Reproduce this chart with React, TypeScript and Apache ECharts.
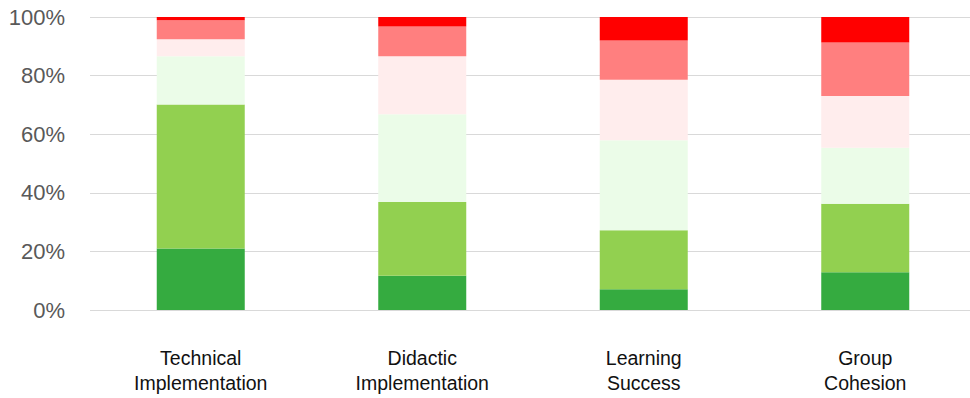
import React, { useEffect, useRef } from "react";
import * as echarts from "echarts";

const categories = ["Technical\nImplementation", "Didactic\nImplementation", "Learning\nSuccess", "Group\nCohesion"];
const seriesNames = ["Very positive", "Positive", "Rather positive", "Rather negative", "Negative", "Very negative"];
const veryPositive = [21.0, 11.7, 7.1, 12.9];
const positive = [49.1, 25.2, 20.1, 23.4];
const ratherPositive = [16.5, 29.9, 30.7, 19.1];
const ratherNegative = [5.8, 19.8, 20.7, 17.6];
const negative = [6.5, 10.2, 13.4, 18.3];
const veryNegative = [1.1, 3.2, 8.0, 8.7];
const yTicks = [0, 20, 40, 60, 80, 100];

const seriesData = [veryPositive, positive, ratherPositive, ratherNegative, negative, veryNegative];
const colors = ["#35AB40", "#92D050", "#EBFCE8", "#FFEDED", "#FF7F7F", "#FF0000"];

export default function App() {
  const ref = useRef<HTMLDivElement>(null);
  useEffect(() => {
    if (!ref.current) return;
    const chart = echarts.init(ref.current, undefined, { renderer: "svg" });
    chart.setOption({
      animation: false,
      grid: { left: 90, right: 4, top: 17, bottom: 88, containLabel: false },
      xAxis: {
        type: "category",
        data: categories,
        axisLine: { show: false },
        axisTick: { show: false },
        axisLabel: {
          margin: 35,
          fontSize: 19.5,
          lineHeight: 25,
          color: "#111111",
          fontFamily: "Liberation Sans, Arial, sans-serif",
        },
      },
      yAxis: {
        type: "value",
        min: yTicks[0],
        max: yTicks[yTicks.length - 1],
        interval: 20,
        axisLine: { show: false },
        axisTick: { show: false },
        splitLine: { lineStyle: { color: "#D9D9D9", width: 1 } },
        axisLabel: {
          margin: 25,
          fontSize: 22,
          color: "#595959",
          fontFamily: "Liberation Sans, Arial, sans-serif",
          formatter: "{value}%",
        },
      },
      series: seriesData.map((d, i) => ({
        name: seriesNames[i],
        type: "bar",
        stack: "total",
        barWidth: 88,
        data: d,
        itemStyle: { color: colors[i] },
      })),
    });
    return () => chart.dispose();
  }, []);
  return (
    <div style={{ position: "fixed", left: 0, top: 0, width: 970, height: 398, overflow: "hidden", background: "#fff" }}>
      <div ref={ref} style={{ width: 980, height: 398 }} />
    </div>
  );
}
